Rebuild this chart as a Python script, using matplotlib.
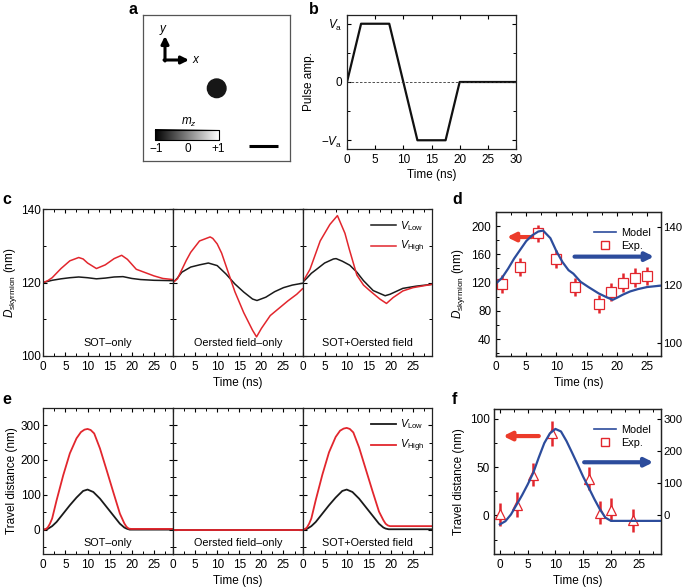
import numpy as np
import matplotlib.pyplot as plt
from matplotlib.patches import Circle
from matplotlib.lines import Line2D
from matplotlib.ticker import MultipleLocator

plt.rcParams['font.family'] = ['Liberation Sans', 'DejaVu Sans']
plt.rcParams['mathtext.fontset'] = 'custom'
plt.rcParams['mathtext.rm'] = 'Liberation Sans'
plt.rcParams['mathtext.it'] = 'Liberation Sans:italic'
plt.rcParams['font.size'] = 8.5
plt.rcParams['axes.linewidth'] = 0.9
plt.rcParams['axes.edgecolor'] = '#222222'
for k in ['xtick', 'ytick']:
    plt.rcParams[k + '.direction'] = 'in'
    plt.rcParams[k + '.major.size'] = 3
    plt.rcParams[k + '.minor.size'] = 2
    plt.rcParams[k + '.major.width'] = 0.8
    plt.rcParams[k + '.minor.width'] = 0.7
    plt.rcParams[k + '.labelsize'] = 8.5
plt.rcParams['xtick.top'] = True
plt.rcParams['ytick.right'] = True

RED = '#e2262d'
BLUE = '#2c4c9c'

# b: pulse shape
pulse_t = [0, 2.5, 7.5, 12.5, 17.5, 20, 30]
pulse_amp = [0, 1, 1, -1, -1, 0, 0]

# c: skyrmion diameter (nm), three cases
case_names = ['SOT–only', 'Oersted field–only', 'SOT+Oersted field']
c_high_t = [
    [0, 1, 2, 4, 6, 8, 9, 10, 12, 14, 16, 17.7, 19, 21, 23, 25, 27, 29.3],
    [0, 1, 2, 3, 4, 6, 8.4, 9, 10, 11, 12, 13, 14, 16, 18, 18.9, 20, 22, 24, 26, 28, 29.3],
    [0, 1.7, 4, 6.2, 7.9, 9.6, 10.6, 12.3, 13.8, 15.3, 17.5, 19, 20.5, 22.7, 25, 29.3],
]
c_high_d = [
    [120, 120.5, 121.3, 123.8, 125.9, 126.8, 126.4, 125.3, 123.8, 124.8, 126.5, 127.4, 126.3, 123.6, 122.7, 121.8, 121.1, 120.8],
    [120, 121, 123.5, 126, 128.2, 131.3, 132.4, 132, 130.5, 128, 124.5, 121, 117.5, 111.8, 107, 105.2, 107.5, 111, 113, 115, 116.8, 118.3],
    [120, 123.6, 131.3, 135.8, 138.2, 133.4, 129, 122, 119.3, 117.7, 115.5, 114.3, 115.9, 117.7, 118.6, 119.5],
]
c_low_t = [
    [0, 2, 4, 6, 8, 10, 12, 14, 16, 18, 20, 22, 25, 29.3],
    [0, 1, 2, 4, 6, 8, 10, 12, 14, 16, 18, 19, 21, 23, 25, 27, 29.3],
    [0, 1, 2, 3.2, 5, 7, 7.6, 9, 10.7, 12.3, 13.8, 16, 18.7, 19.8, 22.7, 25.7, 29.3],
]
c_low_d = [
    [120, 120.6, 121.0, 121.3, 121.5, 121.3, 121.0, 121.2, 121.5, 121.6, 121.1, 120.8, 120.6, 120.5],
    [120, 121.2, 122.8, 124.2, 124.8, 125.3, 124.6, 122.3, 119.6, 117.4, 115.5, 115.1, 116, 117.5, 118.6, 119.3, 119.8],
    [120, 121.2, 122.5, 123.6, 125.3, 126.4, 126.5, 125.8, 124.7, 122.8, 120.5, 117.8, 116.4, 116.8, 118.4, 119, 119.5],
]

# d: model (right axis) and experiment (left axis)
d_model_t = [0, 1, 2, 3, 4, 5, 6, 7, 7.8, 9, 10, 11, 12, 12.8, 14, 15.3, 17, 18.3, 19.3, 20, 21, 22.2, 23.5, 25, 27.3]
d_model_d = [120.4, 122.4, 125.5, 129, 132, 135, 137, 138.3, 138.6, 136, 131.5, 127.8, 125, 123.8, 121, 119.2,
             117, 115.7, 114.8, 115.5, 116.6, 117.7, 118.5, 119.2, 119.7]
d_exp_t = [1, 4, 7, 10, 13, 17, 19, 21, 23, 25]
d_exp_d = [118, 142, 190, 153, 114, 90, 107, 120, 127, 129]
d_exp_err = [13, 13, 12, 13, 13, 13, 13, 13, 13, 13]

# e: travel distance (nm), three cases
e_high_t = [
    [0, 0.5, 1, 1.5, 2, 3, 4.5, 6, 7.5, 8.5, 9.3, 10, 10.7, 11.5, 12.8, 14.3, 15.8, 17.3, 18.3, 18.8, 19.3, 19.8, 20.5, 29.3],
    [0, 29.3],
    [0, 0.5, 1, 1.5, 2, 3, 4.5, 6, 7.5, 8.5, 9.3, 10, 10.7, 11.5, 12.8, 14.3, 15.8, 17.3, 18.3, 18.8, 19.3, 19.8, 20.5, 29.3],
]
e_high_x = [
    [0, 1, 6, 17, 32, 84, 156, 219, 262, 280, 287, 289, 286, 276, 233, 171, 108, 46, 18, 8, 3, 2, 2, 2],
    [0, 0],
    [0, 1, 6, 17, 32, 85, 158, 222, 266, 284, 290, 292, 289, 279, 236, 174, 112, 52, 27, 17, 12, 10, 10, 10],
]
e_low_t = [
    [0, 0.5, 1, 1.5, 2, 3, 4.5, 6, 7.5, 9, 10, 11.3, 12.8, 14.3, 15.8, 17.3, 18.3, 18.8, 19.5, 29.3],
    [0, 29.3],
    [0, 0.5, 1, 1.5, 2, 3, 4.5, 6, 7.5, 9, 10, 11.3, 12.8, 14.3, 15.8, 17.3, 18.3, 18.8, 19.5, 29.3],
]
e_low_x = [
    [0, 0.5, 2, 6, 10, 22, 46, 70, 92, 111, 115, 108, 89, 65, 41, 17, 6, 3, 0, 0],
    [0, 0],
    [0, 0.5, 2, 6, 10, 22, 46, 70, 92, 111, 115, 108, 89, 65, 41, 17, 6, 3, 1, 1],
]

# f: model (right axis) and experiment (left axis)
f_model_t = [0, 1, 2, 3, 4, 5, 6, 7, 8, 9, 10, 11, 12, 13, 14, 15, 16, 17, 18, 19, 20, 29]
f_model_x = [-28, -18, 3, 33, 63, 96, 132, 180, 225, 255, 269, 261, 231, 195, 158, 120, 86, 51, 19, -7, -17, -17]
f_exp_t = [0, 3, 6, 9.3, 16, 18, 20, 24]
f_exp_x = [1, 11, 42, 85, 38, 3, 6, -5]
f_exp_err = [12, 13, 12, 13, 12, 12, 12, 12]

fig = plt.figure(figsize=(6.85, 5.87), dpi=100)
W, H = 685.0, 587.0


def px_axes(x0, y0, x1, y1):
    return fig.add_axes([x0 / W, 1 - y1 / H, (x1 - x0) / W, (y1 - y0) / H])


# ---- a: simulation snapshot sketch
ax_a = px_axes(143, 15, 290, 161)
ax_a.set_xlim(0, 147)
ax_a.set_ylim(146, 0)
ax_a.set_xticks([])
ax_a.set_yticks([])
for s in ax_a.spines.values():
    s.set_color('#555555')
ax_a.add_patch(Circle((73.7, 73.3), 9.3, color='#161616'))
ax_a.annotate('', xy=(22, 21), xytext=(22, 46),
              arrowprops=dict(arrowstyle='-|>', lw=2.2, color='black', mutation_scale=11, shrinkA=0, shrinkB=0))
ax_a.annotate('', xy=(46, 45), xytext=(21, 45),
              arrowprops=dict(arrowstyle='-|>', lw=2.2, color='black', mutation_scale=11, shrinkA=0, shrinkB=0))
ax_a.text(20, 14, 'y', style='italic', ha='center', va='center', fontsize=8.5)
ax_a.text(52, 45, 'x', style='italic', ha='center', va='center', fontsize=8.5)
grad = np.linspace(0, 1, 256)[None, :]
ax_a.imshow(grad, cmap='gray', extent=(12, 76, 125.3, 115), aspect='auto')
ax_a.plot([12, 76, 76, 12, 12], [115, 115, 125.3, 125.3, 115], color='black', lw=0.8)
ax_a.text(46, 107, r'$m_z$', ha='center', va='center', fontsize=8.5)
ax_a.text(13, 134.5, '−1', ha='center', va='center', fontsize=8.5)
ax_a.text(45, 134.5, '0', ha='center', va='center', fontsize=8.5)
ax_a.text(75, 134.5, '+1', ha='center', va='center', fontsize=8.5)
ax_a.plot([106, 135], [130.7, 130.7], color='black', lw=2.2, solid_capstyle='butt')

# ---- b: pulse
ax_b = px_axes(347, 15, 516, 149)
ax_b.plot(pulse_t, pulse_amp, color='#111111', lw=1.6)
ax_b.axhline(0, color='#333333', lw=0.6, ls='--', dashes=(3, 2))
ax_b.set_xlim(0, 30)
ax_b.set_ylim(-1.15, 1.15)
ax_b.set_yticks([-1, 0, 1])
ax_b.set_yticklabels([r'$-V_\mathrm{a}$', '0', r'$V_\mathrm{a}$'])
ax_b.yaxis.set_minor_locator(MultipleLocator(0.5))
ax_b.xaxis.set_major_locator(MultipleLocator(5))
ax_b.set_xlabel('Time (ns)', labelpad=2)
ax_b.set_ylabel('Pulse amp.', labelpad=4)

# ---- c and e: three sub-panels each
col_x = [43.3, 173, 302.5, 432]
for row, (y0, y1) in enumerate([(209, 356), (407.7, 554)]):
    for i in range(3):
        ax = px_axes(col_x[i], y0, col_x[i + 1], y1)
        if row == 0:
            ax.plot(c_low_t[i], c_low_d[i], color='#1a1a1a', lw=1.1, label=r'$V_\mathrm{Low}$')
            ax.plot(c_high_t[i], c_high_d[i], color=RED, lw=1.1, label=r'$V_\mathrm{High}$')
            ax.set_ylim(100, 140)
            ax.yaxis.set_major_locator(MultipleLocator(20))
            ax.yaxis.set_minor_locator(MultipleLocator(10))
            txt_y = 0.086
        else:
            ax.plot(e_low_t[i], e_low_x[i], color='#1a1a1a', lw=1.3, label=r'$V_\mathrm{Low}$')
            ax.plot(e_high_t[i], e_high_x[i], color=RED, lw=1.3, label=r'$V_\mathrm{High}$')
            ax.set_ylim(-70, 350)
            ax.yaxis.set_major_locator(MultipleLocator(100))
            ax.yaxis.set_minor_locator(MultipleLocator(50))
            txt_y = 0.075
        ax.set_xlim(0, 29.3)
        ax.xaxis.set_major_locator(MultipleLocator(5))
        ax.xaxis.set_minor_locator(MultipleLocator(2.5))
        ax.text(0.5, txt_y, case_names[i], transform=ax.transAxes, ha='center', va='center', fontsize=7.8)
        if i > 0:
            ax.tick_params(labelleft=False)
        else:
            ax.tick_params(axis='y', pad=2)
            if row == 0:
                ax.set_ylabel(r'$D_\mathrm{skyrmion}$ (nm)', labelpad=1)
            else:
                ax.set_ylabel('Travel distance (nm)', labelpad=2)
        if i == 1:
            ax.set_xlabel('Time (ns)', labelpad=3)
        if i == 2:
            ax.legend(loc='upper right', frameon=False, fontsize=7.8, handlelength=2.3,
                      handletextpad=0.4, labelspacing=0.6, bbox_to_anchor=(1.02, 1.0))


# ---- d and f: model vs experiment
def model_panel(box, left_lim, right_lim, left_major, left_minor, right_ticks,
                mt, my, et, ey, eerr, emarker, red_arrow, blue_arrow, ylabel, xlim):
    ax = px_axes(*box)
    ax2 = ax.twinx()
    ax.errorbar(et, ey, yerr=eerr, fmt=emarker, ms=7, mfc='white', mec=RED, mew=0.9,
                ecolor=RED, elinewidth=1.8, capsize=0, zorder=3)
    ax2.plot(mt, my, color=BLUE, lw=1.6)
    ax.set_xlim(*xlim)
    ax.set_ylim(*left_lim)
    ax2.set_ylim(*right_lim)
    ax.xaxis.set_major_locator(MultipleLocator(5))
    ax.xaxis.set_minor_locator(MultipleLocator(2.5))
    ax.yaxis.set_major_locator(MultipleLocator(left_major))
    ax.yaxis.set_minor_locator(MultipleLocator(left_minor))
    ax2.set_yticks(right_ticks)
    ax.tick_params(right=False, which='both')
    ax2.tick_params(direction='in', pad=1.5, labelsize=8.2)
    ax.set_xlabel('Time (ns)', labelpad=3)
    ax.set_ylabel(ylabel, labelpad=3)
    ax.annotate('', xy=(red_arrow[0], red_arrow[2]), xytext=(red_arrow[1], red_arrow[2]),
                xycoords='axes fraction',
                arrowprops=dict(arrowstyle='-|>', lw=3, color='#ec3b2a', mutation_scale=12, shrinkA=0, shrinkB=0))
    ax2.annotate('', xy=(blue_arrow[1], blue_arrow[2]), xytext=(blue_arrow[0], blue_arrow[2]),
                 xycoords='axes fraction',
                 arrowprops=dict(arrowstyle='-|>', lw=3, color=BLUE, mutation_scale=12, shrinkA=0, shrinkB=0))
    handles = [Line2D([], [], color=BLUE, lw=1.2),
               Line2D([], [], ls='none', marker='s', ms=6, mfc='white', mec=RED, mew=1)]
    ax2.legend(handles, ['Model', 'Exp.'], loc='upper right', frameon=False, fontsize=7.8,
               handlelength=2.0, handletextpad=0.5, labelspacing=0.3, bbox_to_anchor=(1.0, 0.96))
    return ax, ax2


model_panel((496, 212, 661, 356), (16, 220), (95.5, 145), 40, 20, [100, 120, 140],
            d_model_t, d_model_d, d_exp_t, d_exp_d, d_exp_err, 's',
            (0.066, 0.217, 0.826), (0.476, 0.958, 0.69), r'$D_\mathrm{skyrmion}$ (nm)', (0, 27.3))

model_panel((494.3, 409.3, 661, 554), (-40, 110), (-120, 330), 50, 25, [0, 100, 200, 300],
            f_model_t, f_model_x, f_exp_t, f_exp_x, f_exp_err, '^',
            (0.053, 0.267, 0.815), (0.539, 0.954, 0.634), 'Travel distance (nm)', (-1, 29))

# panel letters
for letter, x, y in [('a', 133, 10), ('b', 314, 10), ('c', 7, 200), ('d', 457, 200), ('e', 7, 400), ('f', 454, 400)]:
    fig.text(x / W, 1 - y / H, letter, fontsize=11.5, fontweight='bold', ha='center', va='center')

fig.savefig('out.png', dpi=100)
